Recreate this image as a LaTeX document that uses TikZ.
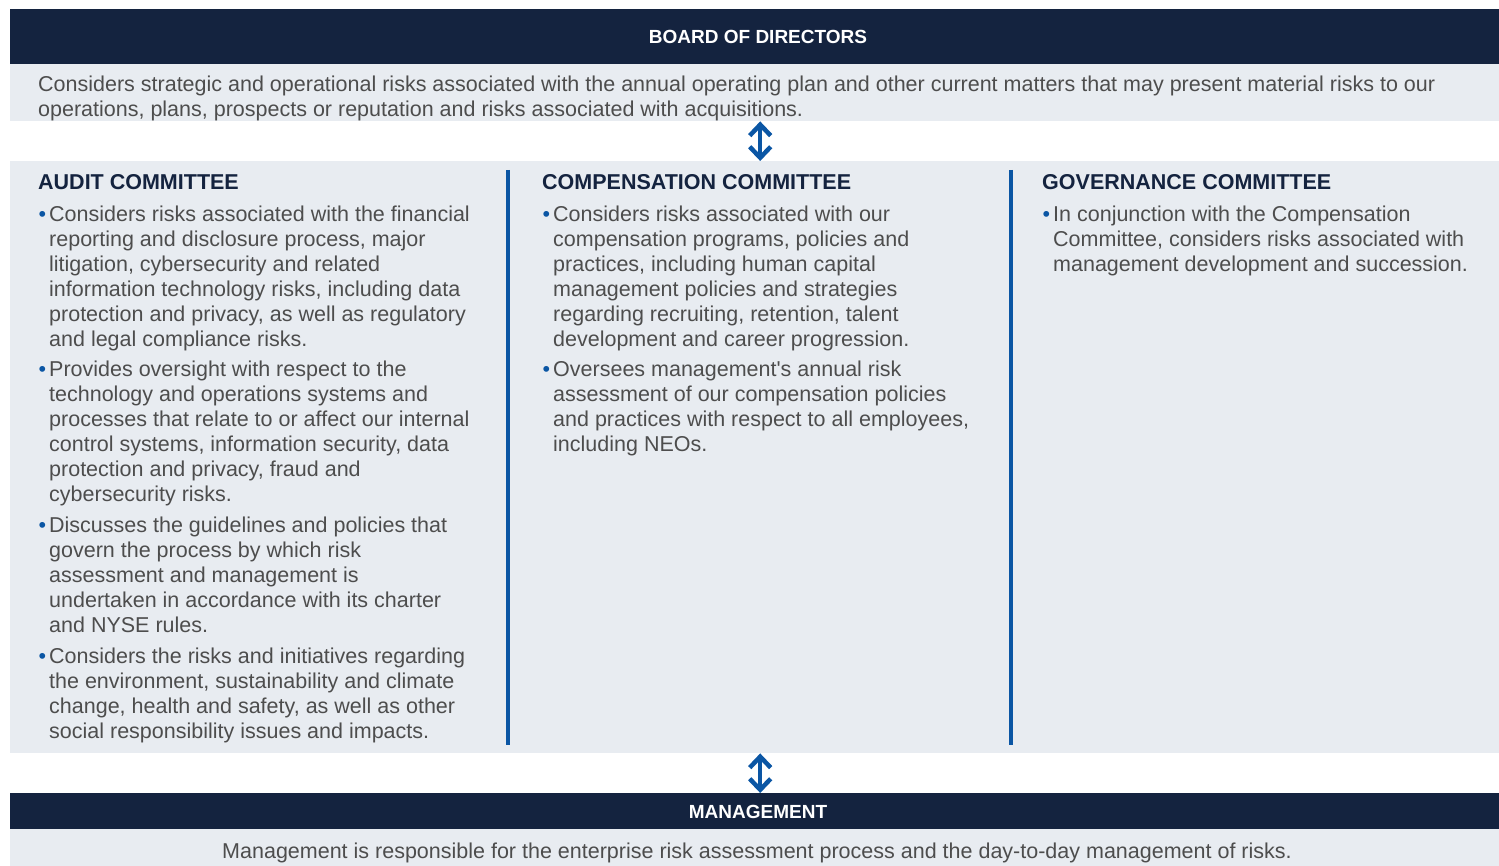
\documentclass[tikz,border=0pt]{standalone}
\usepackage{fontspec}
\setmainfont{Liberation Sans}
\usetikzlibrary{arrows.meta}
\definecolor{navy}{HTML}{14233F}
\definecolor{panelgray}{HTML}{E8ECF1}
\definecolor{ruleblue}{HTML}{0B56A4}
\definecolor{bodygray}{HTML}{4D4D4D}
\begin{document}
\begin{tikzpicture}[x=1pt,y=-1pt,line cap=butt,line join=miter,
		font=\fontsize{21.5}{25}\selectfont]
		\tikzset{header/.style={fill=navy,inner sep=0pt,minimum width=1489pt,anchor=north west},
			headtxt/.style={text=white,inner sep=0pt,anchor=base,
				font=\fontsize{19}{22}\selectfont\bfseries},
			band/.style={fill=panelgray,inner sep=0pt,minimum width=1489pt,anchor=north west},
			body/.style={text=bodygray,align=left,inner sep=0pt,anchor=base west},
			title/.style={text=navy,inner sep=0pt,anchor=base west,
				font=\fontsize{21.5}{25}\selectfont\bfseries},
			divider/.style={ruleblue,line width=3.5pt},
			link/.style={ruleblue,line width=3.5pt,
				{Straight Barb[length=11pt,width=21pt,line width=4.5pt]}-{Straight Barb[length=11pt,width=21pt,line width=4.5pt]}}}
		\def\bul{\makebox[0pt][r]{\textcolor{ruleblue}{\textbullet}\hspace{3pt}}}
		\useasboundingbox (0,0) rectangle (1499,866);
		%--------- Board (text nodes sit on the baseline of their last line)
		\node[header,minimum height=55pt] (board) at (10,9) {};
		\node[headtxt] (boardlbl) at (758,44) {BOARD OF DIRECTORS};
		\node[band,minimum height=57pt] (boardband) at (10,64) {};
		\node[body] (boardtxt) at (38,117) {Considers strategic and operational risks associated with the annual operating plan and other current matters that may present material risks to our\\
			operations, plans, prospects or reputation and risks associated with acquisitions.};
		%--------- Committees
		\node[band,minimum height=592pt] (cmte) at (10,161) {};
		\draw[divider] (508,170) -- (508,745);
		\draw[divider] (1011,170) -- (1011,745);
		\node[title] (audit) at (38,190) {AUDIT COMMITTEE};
		\node[title] (comp) at (542,190) {COMPENSATION COMMITTEE};
		\node[title] (gov) at (1042,190) {GOVERNANCE COMMITTEE};
		% Audit
		\node[body] (audit1) at (49,347) {\bul Considers risks associated with the financial\\ reporting and disclosure process, major\\ litigation, cybersecurity and related\\ information technology risks, including data\\ protection and privacy, as well as regulatory\\ and legal compliance risks.};
		\node[body] (audit2) at (49,501) {\bul Provides oversight with respect to the\\ technology and operations systems and\\ processes that relate to or affect our internal\\ control systems, information security, data\\ protection and privacy, fraud and\\ cybersecurity risks.};
		\node[body] (audit3) at (49,632) {\bul Discusses the guidelines and policies that\\ govern the process by which risk\\ assessment and management is\\ undertaken in accordance with its charter\\ and NYSE rules.};
		\node[body] (audit4) at (49,738) {\bul Considers the risks and initiatives regarding\\ the environment, sustainability and climate\\ change, health and safety, as well as other\\ social responsibility issues and impacts.};
		% Compensation
		\node[body] (comp1) at (553,347) {\bul Considers risks associated with our\\ compensation programs, policies and\\ practices, including human capital\\ management policies and strategies\\ regarding recruiting, retention, talent\\ development and career progression.};
		\node[body] (comp2) at (553,451) {\bul Oversees management\textquotesingle s annual risk\\ assessment of our compensation policies\\ and practices with respect to all employees,\\ including NEOs.};
		% Governance
		\node[body] (gov1) at (1053,272) {\bul In conjunction with the Compensation\\ Committee, considers risks associated with\\ management development and succession.};
		%--------- Management
		\node[header,minimum height=36pt] (mgmt) at (10,793) {};
		\node[headtxt] (mgmtlbl) at (758,818) {MANAGEMENT};
		\node[band,minimum height=37pt] (mgmtband) at (10,829) {};
		\node[body,anchor=base] (mgmttxt) at (757,858) {Management is responsible for the enterprise risk assessment process and the day-to-day management of risks.};
		%--------- Arrows
		\draw[link] ([xshift=5.5pt]boardband.south) -- ([xshift=5.5pt]cmte.north);
		\draw[link] ([xshift=5.5pt]cmte.south) -- ([xshift=5.5pt]mgmt.north);
\end{tikzpicture}
\end{document}
